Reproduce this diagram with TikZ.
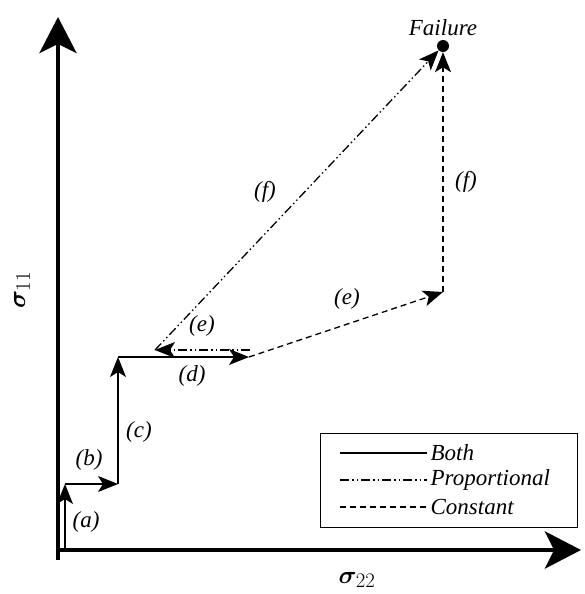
\documentclass[tikz,border=0pt]{standalone}
\usepackage{fontspec}
\setmainfont{Liberation Serif}
\usepackage{bm}
\usetikzlibrary{arrows.meta, positioning}
\begin{document}
\begin{tikzpicture}[
  x=1pt, y=-1pt,
  axis/.style={line width=4.5pt, -{Stealth[length=36pt, width=37pt, inset=9pt]}},
  path/.style={line width=1.3pt},
  arr/.style={-{Stealth[length=20pt, width=16pt, inset=5pt]}},
  both/.style={path},
  prop/.style={path, dash pattern=on 9pt off 3pt on 1.5pt off 3pt on 1.5pt off 3pt},
  const/.style={path, dash pattern=on 6pt off 4pt},
  lbl/.style={font=\fontsize{23}{27}\selectfont\itshape},
  axlbl/.style={font=\fontsize{30}{34}\selectfont}
]
\useasboundingbox (0,0) rectangle (584,594);
% axes
\coordinate (orig) at (58,550);
\coordinate (top)  at (58,17);
\coordinate (rgt)  at (581,550);
\draw[axis] (58,560) -- (top);
\draw[axis] (orig) -- (rgt);
\node[axlbl, rotate=90] (s11) at (22,290) {$\bm{\sigma}_{11}$};
\node[axlbl]            (s22) at (357,580) {$\bm{\sigma}_{22}$};
% load path points
\coordinate (p0) at (65,550);
\coordinate (pa) at (65,484);
\coordinate (pb) at (118,484);
\coordinate (pc) at (118,357);
\coordinate (pd) at (249,357);
\coordinate (pdp) at (250,350);
\coordinate (pep) at (155,350);
\coordinate (pec) at (443,292);
\node[circle, fill, inner sep=0pt, minimum size=12pt] (fail) at (443,46) {};
\node[lbl, above=0pt of fail] (faillbl) {Failure};
% both
\draw[both, arr] (p0) -- (pa);
\draw[both, arr] (pa) -- (pb);
\draw[both, arr] (pb) -- (pc);
\draw[both, arr] (pc) -- (pd);
% proportional
\draw[prop, arr] (pdp) -- (pep);
\draw[prop, arr] (pep) -- (fail.south west);
% constant
\draw[const, arr] (pd) -- (pec);
\draw[const, arr] (pec) -- (fail.south);
% step labels
\node[lbl] (la)  at (86,522)  {(a)};
\node[lbl] (lb)  at (89,460)  {(b)};
\node[lbl] (lc)  at (139,432) {(c)};
\node[lbl] (ld)  at (192,376) {(d)};
\node[lbl] (lep) at (202,326) {(e)};
\node[lbl] (lec) at (347,299) {(e)};
\node[lbl] (lfp) at (265,192) {(f)};
\node[lbl] (lfc) at (466,182) {(f)};
% legend
\node[draw, line width=1pt, minimum width=257pt, minimum height=94pt] (legend) at (448.5,480) {};
\coordinate (k1) at (340,453);
\coordinate (k2) at (340,480);
\coordinate (k3) at (340,507);
\draw[both]  (k1) -- ++(87,0) node[lbl, anchor=west, inner sep=3pt] (t1) {Both};
\draw[prop]  (k2) -- ++(87,0) node[lbl, anchor=west, inner sep=3pt] (t2) {Proportional};
\draw[const] (k3) -- ++(87,0) node[lbl, anchor=west, inner sep=3pt] (t3) {Constant};
\end{tikzpicture}
\end{document}
